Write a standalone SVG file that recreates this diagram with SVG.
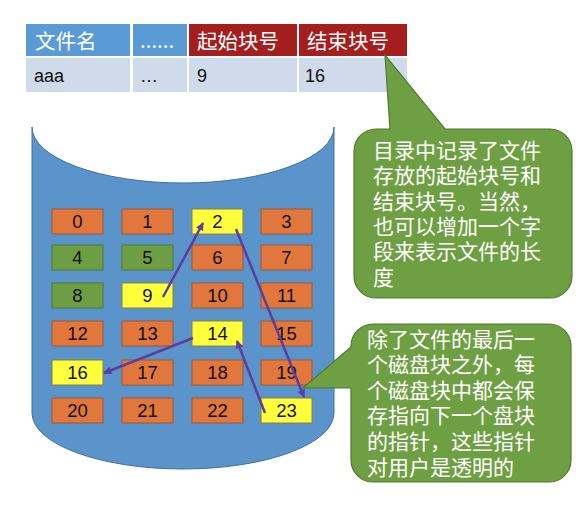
<svg xmlns="http://www.w3.org/2000/svg" width="588" height="508" viewBox="0 0 588 508">
<style>
.hb{fill:#5B9BD5}
.hr{fill:#A51E1E}
.rc{fill:#CFDBEB}
.ht{font-family:"Noto Sans CJK SC","Liberation Sans",sans-serif;font-size:20.5px;fill:#fff}
.rt{font-family:"Liberation Sans",sans-serif;font-size:18px;fill:#111}
.b rect{stroke-width:1}
.o{fill:#E2773D;stroke:#A0582C}
.g{fill:#6E9E44;stroke:#4E7A32}
.y{fill:#FFFF3C;stroke:#8C7C40}
.n{font-family:"Liberation Sans",sans-serif;font-size:18.5px;fill:#111;text-anchor:middle}
.ar{stroke:#5B3E9E;stroke-width:2.5;fill:none;marker-end:url(#ah)}
.co{fill:#6F9F43;stroke:#50792F;stroke-width:1.2}
.ct{font-family:"Noto Sans CJK SC",sans-serif;font-size:21px;fill:#fff}
</style>
<defs>
<marker id="ah" viewBox="0 0 10 10" refX="9" refY="5" markerWidth="8" markerHeight="8" markerUnits="userSpaceOnUse" orient="auto">
<path d="M0,0 L10,5 L0,10 Z" fill="#5B3E9E"/>
</marker>
</defs>
<rect width="588" height="508" fill="#fff"/>
<g id="table">
<rect class="hb" x="26" y="24" width="104" height="32"/>
<rect class="hb" x="133" y="24" width="54" height="32"/>
<rect class="hr" x="189" y="24" width="108" height="32"/>
<rect class="hr" x="299" y="24" width="108" height="32"/>
<rect class="rc" x="26" y="58" width="104" height="34"/>
<rect class="rc" x="133" y="58" width="54" height="34"/>
<rect class="rc" x="189" y="58" width="108" height="34"/>
<rect class="rc" x="299" y="58" width="108" height="34"/>
<text class="ht" x="35" y="49">文件名</text>
<text class="ht" x="140" y="48">......</text>
<text class="ht" x="197" y="49">起始块号</text>
<text class="ht" x="307" y="49">结束块号</text>
<text class="rt" x="34" y="82">aaa</text>
<text class="rt" x="140" y="82">…</text>
<text class="rt" x="197" y="82">9</text>
<text class="rt" x="305" y="82">16</text>
</g>
<g id="disk">
<path d="M32,127 A151,56 0 0 0 334,127 L334,413 A151,56 0 0 1 32,413 Z" fill="#5B93CB" stroke="#41719C" stroke-width="1"/>
</g>
<g id="blocks" class="b">
<g id="b0"><rect class="o" x="52" y="209" width="51" height="25"/><text class="n" x="77.5" y="228">0</text></g>
<g id="b1"><rect class="o" x="122" y="209" width="51" height="25"/><text class="n" x="147.5" y="228">1</text></g>
<g id="b2"><rect class="y" x="192" y="209" width="51" height="25"/><text class="n" x="217.5" y="228">2</text></g>
<g id="b3"><rect class="o" x="261" y="209" width="51" height="25"/><text class="n" x="286.5" y="228">3</text></g>
<g id="b4"><rect class="g" x="52" y="245" width="51" height="25"/><text class="n" x="77.5" y="264">4</text></g>
<g id="b5"><rect class="g" x="122" y="245" width="51" height="25"/><text class="n" x="147.5" y="264">5</text></g>
<g id="b6"><rect class="o" x="192" y="245" width="51" height="25"/><text class="n" x="217.5" y="264">6</text></g>
<g id="b7"><rect class="o" x="261" y="245" width="51" height="25"/><text class="n" x="286.5" y="264">7</text></g>
<g id="b8"><rect class="g" x="52" y="283" width="51" height="25"/><text class="n" x="77.5" y="302">8</text></g>
<g id="b9"><rect class="y" x="122" y="283" width="51" height="25"/><text class="n" x="147.5" y="302">9</text></g>
<g id="b10"><rect class="o" x="192" y="283" width="51" height="25"/><text class="n" x="217.5" y="302">10</text></g>
<g id="b11"><rect class="o" x="261" y="283" width="51" height="25"/><text class="n" x="286.5" y="302">11</text></g>
<g id="b12"><rect class="o" x="52" y="321" width="51" height="25"/><text class="n" x="77.5" y="340">12</text></g>
<g id="b13"><rect class="o" x="122" y="321" width="51" height="25"/><text class="n" x="147.5" y="340">13</text></g>
<g id="b14"><rect class="y" x="192" y="321" width="51" height="25"/><text class="n" x="217.5" y="340">14</text></g>
<g id="b15"><rect class="o" x="261" y="321" width="51" height="25"/><text class="n" x="286.5" y="340">15</text></g>
<g id="b16"><rect class="y" x="52" y="360" width="51" height="25"/><text class="n" x="77.5" y="379">16</text></g>
<g id="b17"><rect class="o" x="122" y="360" width="51" height="25"/><text class="n" x="147.5" y="379">17</text></g>
<g id="b18"><rect class="o" x="192" y="360" width="51" height="25"/><text class="n" x="217.5" y="379">18</text></g>
<g id="b19"><rect class="o" x="261" y="360" width="51" height="25"/><text class="n" x="286.5" y="379">19</text></g>
<g id="b20"><rect class="o" x="52" y="398" width="51" height="25"/><text class="n" x="77.5" y="417">20</text></g>
<g id="b21"><rect class="o" x="122" y="398" width="51" height="25"/><text class="n" x="147.5" y="417">21</text></g>
<g id="b22"><rect class="o" x="192" y="398" width="51" height="25"/><text class="n" x="217.5" y="417">22</text></g>
<g id="b23"><rect class="y" x="261" y="398" width="51" height="25"/><text class="n" x="286.5" y="417">23</text></g>
</g>
<g id="connectors">
<line class="ar" x1="163" y1="297" x2="203" y2="223"/>
<line class="ar" x1="236" y1="229" x2="304" y2="397"/>
<line class="ar" x1="265" y1="413" x2="237" y2="341"/>
<line class="ar" x1="193" y1="338" x2="104" y2="373"/>
</g>
<g id="callout1">
<path class="co" d="M376,129 L390,129 L385,55 L445,129 L550,129 A22,22 0 0 1 572,151 L572,276 A22,22 0 0 1 550,298 L376,298 A22,22 0 0 1 354,276 L354,151 A22,22 0 0 1 376,129 Z"/>
<text class="ct"><tspan x="373" y="158">目录中记录了文件</tspan><tspan x="373" y="183">存放的起始块号和</tspan><tspan x="373" y="209">结束块号。当然，</tspan><tspan x="373" y="234">也可以增加一个字</tspan><tspan x="373" y="259">段来表示文件的长</tspan><tspan x="373" y="285">度</tspan></text>
</g>
<g id="callout2">
<path class="co" d="M373,324 L549,324 A22,22 0 0 1 571,346 L571,460 A22,22 0 0 1 549,482 L373,482 A22,22 0 0 1 351,460 L351,388 L303,388 L351,347 L351,346 A22,22 0 0 1 373,324 Z"/>
<text class="ct"><tspan x="367" y="347">除了文件的最后一</tspan><tspan x="367" y="372">个磁盘块之外，每</tspan><tspan x="367" y="398">个磁盘块中都会保</tspan><tspan x="367" y="423">存指向下一个盘块</tspan><tspan x="367" y="449">的指针，这些指针</tspan><tspan x="367" y="475">对用户是透明的</tspan></text>
</g>
</svg>
